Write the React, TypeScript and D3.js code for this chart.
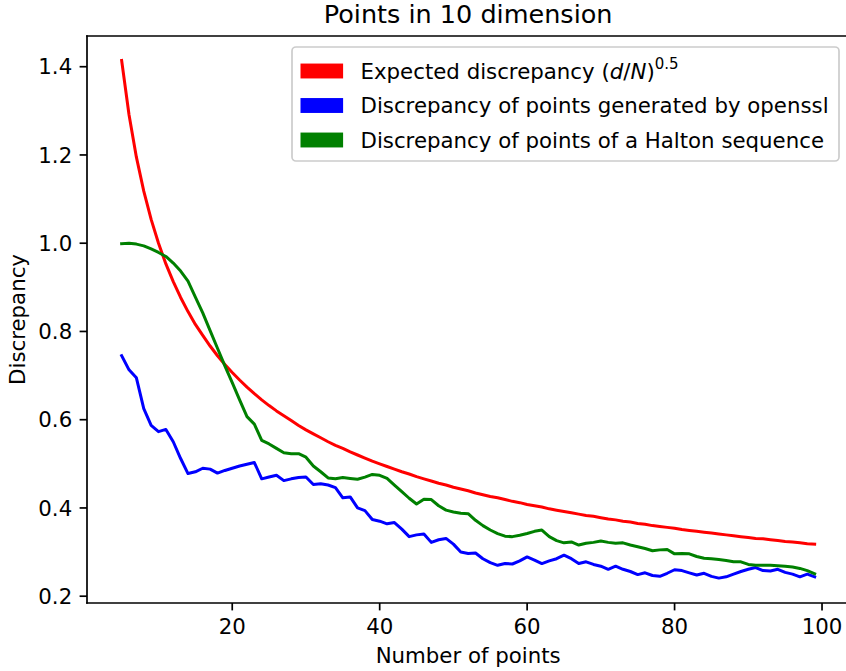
import React from "react";
import * as d3 from "d3";

const pointCounts: number[] = d3.range(5, 100);

const expectedDiscrepancy: number[] = [
  1.414, 1.291, 1.195, 1.118, 1.054, 1.0, 0.953, 0.913, 0.877, 0.845,
  0.816, 0.791, 0.767, 0.745, 0.725, 0.707, 0.69, 0.674, 0.659, 0.645,
  0.632, 0.62, 0.609, 0.598, 0.587, 0.577, 0.568, 0.559, 0.55, 0.542,
  0.535, 0.527, 0.52, 0.513, 0.506, 0.5, 0.494, 0.488, 0.482, 0.477,
  0.471, 0.466, 0.461, 0.456, 0.452, 0.447, 0.443, 0.439, 0.434, 0.43,
  0.426, 0.423, 0.419, 0.415, 0.412, 0.408, 0.405, 0.402, 0.398, 0.395,
  0.392, 0.389, 0.386, 0.383, 0.381, 0.378, 0.375, 0.373, 0.37, 0.368,
  0.365, 0.363, 0.36, 0.358, 0.356, 0.354, 0.351, 0.349, 0.347, 0.345,
  0.343, 0.341, 0.339, 0.337, 0.335, 0.333, 0.331, 0.33, 0.328, 0.326,
  0.324, 0.323, 0.321, 0.319, 0.318,
];

const opensslDiscrepancy: number[] = [
  0.745, 0.713, 0.695, 0.625, 0.587, 0.573, 0.578, 0.55, 0.512, 0.478,
  0.482, 0.49, 0.488, 0.479, 0.485, 0.49, 0.495, 0.499, 0.503, 0.466,
  0.47, 0.474, 0.462, 0.466, 0.469, 0.47, 0.453, 0.455, 0.452, 0.446,
  0.423, 0.425, 0.4, 0.394, 0.374, 0.37, 0.364, 0.367, 0.352, 0.335,
  0.339, 0.341, 0.322, 0.328, 0.331, 0.318, 0.3, 0.297, 0.298, 0.285,
  0.276, 0.27, 0.274, 0.273, 0.28, 0.289, 0.282, 0.274, 0.28, 0.285,
  0.293, 0.285, 0.274, 0.278, 0.272, 0.268, 0.261, 0.268, 0.261, 0.256,
  0.249, 0.253, 0.247, 0.245, 0.252, 0.26, 0.258, 0.253, 0.248, 0.252,
  0.245, 0.241, 0.244, 0.25, 0.256, 0.261, 0.265, 0.258, 0.257, 0.261,
  0.254, 0.25, 0.244, 0.25, 0.244,
];

const haltonDiscrepancy: number[] = [
  0.999, 1.0, 0.998, 0.994, 0.987, 0.979, 0.97, 0.955, 0.937, 0.914,
  0.878, 0.842, 0.802, 0.762, 0.722, 0.684, 0.645, 0.607, 0.59, 0.553,
  0.545, 0.535, 0.525, 0.523, 0.523, 0.515, 0.495, 0.482, 0.468, 0.466,
  0.469, 0.467, 0.465, 0.47, 0.476, 0.474, 0.467, 0.452, 0.437, 0.422,
  0.409, 0.42, 0.419, 0.405, 0.395, 0.391, 0.388, 0.387, 0.372, 0.36,
  0.35, 0.342, 0.336, 0.335, 0.338, 0.342, 0.347, 0.35, 0.335, 0.326,
  0.321, 0.323, 0.316, 0.32, 0.322, 0.325, 0.322, 0.32, 0.321, 0.316,
  0.312, 0.308, 0.303, 0.305, 0.306, 0.296, 0.297, 0.296, 0.29, 0.286,
  0.285, 0.283, 0.281, 0.278, 0.278, 0.272, 0.27, 0.27, 0.27, 0.269,
  0.268, 0.266, 0.263, 0.258, 0.251,
];

const xTicks: number[] = [20, 40, 60, 80, 100];
const yTicks: number[] = [0.2, 0.4, 0.6, 0.8, 1.0, 1.2, 1.4];
const yTickLabels: string[] = ["0.2", "0.4", "0.6", "0.8", "1.0", "1.2", "1.4"];

const seriesColors: string[] = ["#ff0000", "#0000ff", "#008000"];
const legendLabels: string[] = [
  "Expected discrepancy",
  "Discrepancy of points generated by openssl",
  "Discrepancy of points of a Halton sequence",
];

const W = 846;
const H = 671;
const FONT = "'DejaVu Sans', sans-serif";
const FS = 21.3;

export default function App() {
  const left = 87;
  const right = 849.3;
  const top = 36;
  const bottom = 603;

  const x = d3.scaleLinear().domain([0.3, 103.7]).range([left, right]);
  const y = d3.scaleLinear().domain([0.1846, 1.4696]).range([bottom, top]);

  const line = d3
    .line<number>()
    .x((_, i) => x(pointCounts[i]))
    .y((d) => y(d));

  const series = [expectedDiscrepancy, opensslDiscrepancy, haltonDiscrepancy];
  const tickLen = 7.4;
  const pad = 7.4;

  const legendX = 292;
  const legendY = 47;
  const legendW = 547;
  const legendH = 114;
  const rowCenters = [71, 105.5, 140];

  return (
    <svg
      width={W}
      height={H}
      style={{ position: "absolute", left: 0, top: 0, background: "#fff" }}
      fontFamily={FONT}
    >
      <rect x={0} y={0} width={W} height={H} fill="#fff" />
      {/* title */}
      <text x={(left + right) / 2} y={23} textAnchor="middle" fontSize={25.5} fill="#000">
        Points in 10 dimension
      </text>

      {/* lines */}
      {series.map((s, i) => (
        <path
          key={i}
          d={line(s) || ""}
          fill="none"
          stroke={seriesColors[i]}
          strokeWidth={3}
          strokeLinejoin="round"
          strokeLinecap="square"
        />
      ))}

      {/* spines */}
      <line x1={left} y1={top} x2={left} y2={bottom} stroke="#000" strokeWidth={1.7} strokeLinecap="square" />
      <line x1={left} y1={bottom} x2={right} y2={bottom} stroke="#000" strokeWidth={1.7} strokeLinecap="square" />
      <line x1={left} y1={top} x2={right} y2={top} stroke="#000" strokeWidth={1.7} strokeLinecap="square" />
      <line x1={right} y1={top} x2={right} y2={bottom} stroke="#000" strokeWidth={1.7} />

      {/* x ticks */}
      {xTicks.map((t) => (
        <g key={t}>
          <line x1={x(t)} x2={x(t)} y1={bottom} y2={bottom + tickLen} stroke="#000" strokeWidth={1.7} />
          <text x={x(t)} y={634} textAnchor="middle" fontSize={FS} fill="#000">
            {t}
          </text>
        </g>
      ))}

      {/* y ticks */}
      {yTicks.map((t, i) => (
        <g key={t}>
          <line x1={left - tickLen} x2={left} y1={y(t)} y2={y(t)} stroke="#000" strokeWidth={1.7} />
          <text
            x={left - tickLen - pad}
            y={y(t)}
            dy="0.36em"
            textAnchor="end"
            fontSize={FS}
            fill="#000"
          >
            {yTickLabels[i]}
          </text>
        </g>
      ))}

      {/* axis labels */}
      <text x={(left + right) / 2} y={663} textAnchor="middle" fontSize={FS} fill="#000">
        Number of points
      </text>
      <text
        transform={`translate(25,${(top + bottom) / 2}) rotate(-90)`}
        textAnchor="middle"
        fontSize={FS}
        fill="#000"
      >
        Discrepancy
      </text>

      {/* legend */}
      <rect
        x={legendX}
        y={legendY}
        width={legendW}
        height={legendH}
        rx={4}
        ry={4}
        fill="#fff"
        fillOpacity={0.8}
        stroke="#cccccc"
        strokeWidth={1.7}
      />
      {legendLabels.map((lab, i) => (
        <g key={i}>
          <rect
            x={300.5}
            y={rowCenters[i] - 7.45}
            width={42.6}
            height={14.9}
            fill={seriesColors[i]}
          />
          <text x={360.5} y={rowCenters[i] + 7.6} fontSize={FS} fill="#000">
            {lab}
            {i === 0 ? (
              <>
                <tspan> (</tspan>
                <tspan fontStyle="oblique">d</tspan>
                <tspan>/</tspan>
                <tspan fontStyle="oblique">N</tspan>
                <tspan>)</tspan>
                <tspan fontSize={15} dy={-9.5}>
                  0.5
                </tspan>
              </>
            ) : null}
          </text>
        </g>
      ))}
    </svg>
  );
}
